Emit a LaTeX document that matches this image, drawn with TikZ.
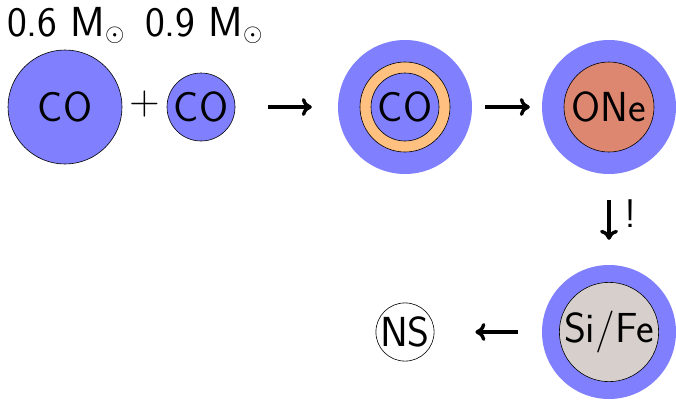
\documentclass[tikz,border=0pt]{standalone}
\usepackage{fontspec}
\usetikzlibrary{arrows.meta}
\setmainfont{Latin Modern Sans}
\definecolor{env}{RGB}{128,128,255}
\definecolor{shellc}{RGB}{255,192,128}
\definecolor{onec}{RGB}{222,135,112}
\definecolor{sifec}{RGB}{215,207,203}
\newcommand{\bigtxt}{\fontsize{42}{50}\selectfont}
\tikzset{
  star/.style={circle,draw=black,line width=0.6pt,fill=env,inner sep=0pt,font=\bigtxt},
  envl/.style={circle,fill=env,draw=none,inner sep=0pt},
  lab/.style={font=\bigtxt,inner sep=0pt},
  flow/.style={line width=3.4pt,-{Computer Modern Rightarrow[length=10pt,width=18pt,line width=3.4pt]}}
}
\begin{document}
\begin{tikzpicture}[x=1pt,y=-1pt]
\useasboundingbox (0,0) rectangle (676,399);
% first pair
\node[star,minimum size=114pt] (a) at (65,107) {CO};
\node[star,minimum size=68pt] (b) at (201,107) {CO};
\node[lab] (plus) at (145,104) {+};
\node[lab,anchor=base west] (la) at (7,36) {0.6 M$_\odot$};
\node[lab,anchor=base west] (lb) at (145,36) {0.9 M$_\odot$};
% merged star with burning shell
\node[envl,minimum size=134pt] (c) at (405,107) {};
\node[circle,draw=black,line width=0.6pt,fill=shellc,minimum size=90pt,inner sep=0pt] (cs) at (405,107) {};
\node[star,minimum size=68pt] (cc) at (405,107) {CO};
% ONe
\node[envl,minimum size=134pt] (d) at (609,107) {};
\node[star,fill=onec,minimum size=90pt] (dc) at (609,107) {ONe};
% Si/Fe
\node[envl,minimum size=134pt] (e) at (609,332) {};
\node[star,fill=sifec,minimum size=90pt] (ec) at (609,332) {Si/Fe};
% NS
\node[star,fill=white,minimum size=57pt] (f) at (405,332) {NS};
% arrows
\draw[flow,shorten <=33pt,shorten >=26pt] (b.east) -- (c.west);
\draw[flow,shorten <=13pt,shorten >=12pt] (c.east) -- (d.west);
\draw[flow,shorten <=26pt,shorten >=25pt] (d.south) -- (e.north) node[pos=0.44,right=14pt,lab,font=\fontsize{40}{46}\selectfont] (ex) {!};
\draw[flow,shorten <=24pt,shorten >=41pt] (e.west) -- (f.east);
\end{tikzpicture}
\end{document}
